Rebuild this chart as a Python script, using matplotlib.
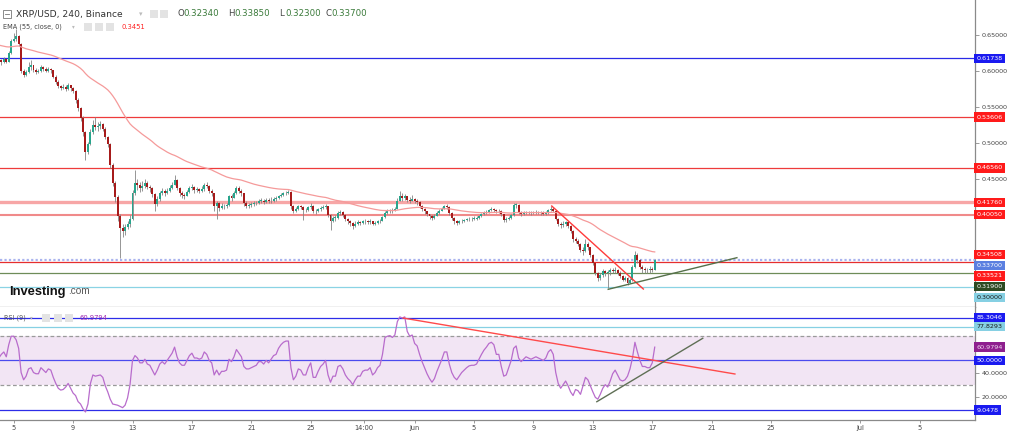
import numpy as np
import matplotlib
matplotlib.use("Agg")
import matplotlib.pyplot as plt
from matplotlib.patches import Rectangle
from matplotlib.lines import Line2D

W, H = 1024, 433

# ---- data (4h candles, prices in 1e-4 USD) ----
first_open = 6130
close_raw = [
    6150, 6120, 6160, 6130, 6250, 6420, 6450, 6480, 6380, 6000,
    5950, 5980, 6060, 6080, 6010, 5990, 6000, 6050, 6030, 6000,
    6030, 6010, 5920, 5850, 5790, 5770, 5780, 5750, 5800, 5760,
    5720, 5600, 5480, 5350, 5150, 4880, 4990, 5150, 5250, 5220,
    5240, 5260, 5200, 5080, 4990, 4700, 4450, 4250, 3980, 3820,
    3780, 3830, 3870, 3950, 4300, 4450, 4420, 4380, 4400, 4450,
    4390, 4370, 4290, 4150, 4220, 4300, 4330, 4300, 4340, 4380,
    4420, 4490, 4380, 4300, 4280, 4270, 4320, 4370, 4390, 4350,
    4360, 4340, 4360, 4420, 4400, 4340, 4300, 4120, 4170, 4100,
    4130, 4120, 4140, 4260, 4240, 4300, 4370, 4340, 4300, 4170,
    4130, 4140, 4150, 4160, 4170, 4200, 4200, 4180, 4210, 4190,
    4200, 4220, 4230, 4260, 4280, 4300, 4310, 4320, 4120, 4060,
    4090, 4120, 4110, 4070, 4070, 4110, 4130, 4050, 4050, 4080,
    4100, 4110, 4120, 4000, 3920, 3960, 3960, 4030, 4040, 4000,
    3950, 3920, 3890, 3850, 3880, 3900, 3890, 3910, 3910, 3900,
    3910, 3880, 3890, 3910, 3920, 3970, 4030, 4050, 4070, 4060,
    4090, 4200, 4260, 4240, 4260, 4210, 4200, 4220, 4190, 4180,
    4130, 4090, 4050, 4010, 3980, 3960, 3990, 4030, 4060, 4090,
    4120, 4110, 4030, 3960, 3910, 3890, 3910, 3920, 3930, 3940,
    3940, 3950, 3950, 3960, 3980, 4010, 4030, 4040, 4070, 4080,
    4070, 4050, 4060, 4010, 3930, 3940, 3960, 4000, 4140, 4140,
    4040, 4020, 4030, 4040, 4030, 4030, 4040, 4040, 4030, 4030,
    4020, 4030, 4070, 4090, 4060, 3950, 3880, 3860, 3880, 3900,
    3850, 3780, 3660, 3640, 3600, 3520, 3500, 3600, 3550, 3450,
    3330, 3200, 3120, 3170, 3220, 3190, 3210, 3240, 3220, 3240,
    3200, 3150, 3100, 3120, 3060, 3100, 3280, 3440, 3370, 3280,
    3250, 3230, 3240, 3250, 3234, 3370,
]
high_raw = [
    6180, 6170, 6190, 6170, 6280, 6450, 6530, 6580, 6500, 6390,
    6030, 6010, 6130, 6150, 6090, 6040, 6030, 6080, 6070, 6050,
    6060, 6040, 6020, 5940, 5870, 5810, 5820, 5800, 5830, 5810,
    5780, 5730, 5620, 5500, 5370, 5160, 5020, 5200, 5320, 5360,
    5290, 5300, 5280, 5220, 5100, 5000, 4720, 4470, 4280, 4020,
    3880, 3870, 3920, 4000, 4350, 4620, 4500, 4460, 4470, 4500,
    4470, 4420, 4390, 4300, 4260, 4330, 4370, 4360, 4380, 4410,
    4460, 4560, 4500, 4390, 4330, 4310, 4350, 4400, 4430, 4400,
    4390, 4380, 4400, 4440, 4460, 4410, 4360, 4310, 4200, 4180,
    4160, 4150, 4170, 4280, 4290, 4330, 4400, 4400, 4360, 4310,
    4190, 4170, 4180, 4190, 4200, 4220, 4230, 4220, 4230, 4230,
    4250, 4250, 4260, 4280, 4300, 4320, 4340, 4350, 4330, 4140,
    4110, 4140, 4140, 4120, 4100, 4130, 4160, 4140, 4080, 4100,
    4120, 4140, 4150, 4130, 4010, 3990, 4000, 4050, 4070, 4060,
    4010, 3960, 3930, 3900, 3910, 3930, 3920, 3930, 3940, 3930,
    3940, 3920, 3910, 3930, 3940, 3990, 4050, 4080, 4090, 4100,
    4110, 4240, 4330, 4300, 4290, 4270, 4250, 4280, 4240, 4220,
    4190, 4140, 4100, 4060, 4020, 4000, 4010, 4050, 4080, 4110,
    4140, 4150, 4120, 4040, 3970, 3930, 3930, 3940, 3950, 3960,
    3970, 3970, 3980, 3980, 4000, 4030, 4060, 4070, 4090, 4110,
    4100, 4090, 4080, 4070, 4020, 3970, 3990, 4020, 4170, 4170,
    4150, 4060, 4060, 4060, 4060, 4050, 4060, 4070, 4060, 4050,
    4050, 4060, 4090, 4120, 4110, 4070, 3960, 3900, 3910, 3920,
    3910, 3860, 3790, 3700, 3660, 3610, 3560, 3660, 3620, 3560,
    3460, 3340, 3210, 3200, 3250, 3240, 3240, 3260, 3270, 3280,
    3250, 3220, 3170, 3150, 3140, 3120, 3300, 3500, 3470, 3390,
    3300, 3280, 3270, 3290, 3280, 3385,
]
low_raw = [
    6100, 6090, 6110, 6110, 6120, 6240, 6400, 6420, 6350, 5970,
    5920, 5930, 5970, 6020, 5990, 5960, 5970, 5990, 6000, 5980,
    5990, 5970, 5900, 5820, 5760, 5740, 5750, 5720, 5740, 5720,
    5690, 5560, 5440, 5300, 5100, 4760, 4850, 4970, 5120, 5180,
    5170, 5200, 5160, 5050, 4940, 4650, 4400, 4180, 3920, 3400,
    3700, 3720, 3800, 3840, 3930, 4280, 4350, 4320, 4340, 4380,
    4360, 4320, 4250, 4050, 4130, 4200, 4280, 4260, 4290, 4320,
    4360, 4410, 4350, 4260, 4230, 4220, 4260, 4310, 4350, 4310,
    4320, 4300, 4320, 4340, 4370, 4300, 4260, 4050, 3940, 4060,
    4080, 4080, 4100, 4130, 4200, 4230, 4290, 4300, 4270, 4120,
    4100, 4100, 4110, 4130, 4140, 4150, 4170, 4150, 4170, 4160,
    4170, 4180, 4200, 4220, 4250, 4270, 4280, 4290, 4090, 4030,
    4040, 4070, 4080, 3930, 4040, 4060, 4090, 4030, 4020, 4040,
    4060, 4080, 4090, 3970, 3790, 3900, 3920, 3950, 4000, 3970,
    3920, 3880, 3850, 3800, 3830, 3860, 3860, 3870, 3880, 3870,
    3880, 3860, 3860, 3870, 3890, 3910, 3960, 4010, 4030, 4030,
    4050, 4080, 4190, 4200, 4210, 4180, 4170, 4190, 4160, 4140,
    4100, 4050, 4020, 3980, 3950, 3930, 3950, 3980, 4020, 4050,
    4080, 4090, 4000, 3930, 3880, 3860, 3870, 3890, 3900, 3910,
    3920, 3920, 3930, 3930, 3940, 3970, 4000, 4010, 4030, 4050,
    4040, 4030, 4030, 3990, 3900, 3900, 3930, 3950, 3990, 4100,
    4020, 3990, 4000, 4010, 4010, 4000, 4010, 4010, 4010, 4000,
    4000, 4000, 4020, 4050, 4040, 3930, 3850, 3820, 3840, 3850,
    3820, 3750, 3620, 3610, 3570, 3490, 3450, 3480, 3520, 3420,
    3300, 3160, 3080, 3100, 3140, 3150, 2990, 3170, 3190, 3200,
    3170, 3120, 3080, 3090, 3030, 3050, 3090, 3270, 3330, 3250,
    3200, 3200, 3190, 3200, 3210, 3230,
]
rsi9 = [
    52, 55, 57, 53, 63, 70, 70, 67, 60, 40,
    34, 37, 43, 44, 40, 39, 39, 44, 42, 40,
    43, 42, 36, 31, 27, 25.5, 26, 28, 31, 27,
    23, 21, 16, 14, 10, 7.4, 14, 31, 38, 37,
    37.5, 38, 36, 29, 24, 18, 14, 13.5, 13, 12,
    11, 13, 19, 30, 50, 54, 52, 48, 48, 51,
    47, 46, 42, 38, 42, 47, 49, 47, 50, 53,
    56, 61, 53, 48, 46, 46, 50, 54, 56, 52,
    52, 51, 52, 57, 55, 50, 48, 38, 42, 38,
    41, 41, 42, 51, 49, 53, 59, 56, 53, 45,
    43, 43, 44, 45, 46, 49, 49, 47, 50, 48,
    51, 54, 55, 60, 63, 65, 66, 66, 44, 34,
    37, 43, 42, 38, 38, 44, 48, 36, 36, 41,
    45, 47, 50, 38, 32, 37, 37, 45, 46, 43,
    38, 35, 33, 30, 34, 37, 37, 41, 42, 42,
    44, 38, 40, 44, 46, 55, 69, 70, 70.5, 69,
    71, 82, 86, 85, 86, 74, 70, 71, 64, 62,
    55, 49, 44, 39, 35, 32, 35, 41, 46, 51,
    57, 57, 47, 40, 36, 34, 37, 40, 42, 44,
    45.5, 46, 46, 47, 51, 55, 58.5, 61, 64, 65,
    63, 55, 55, 45, 37, 38, 44, 50, 60, 62,
    52, 49, 51, 53, 52, 51, 52, 53, 52, 51,
    50, 52, 57, 59, 55, 40, 31, 27, 30, 33,
    29, 24, 21, 26, 25, 22, 29, 36, 34, 29,
    24, 19.5, 18, 22, 27, 30, 28, 33, 39, 42,
    38, 34, 33, 34, 37, 43, 52, 65, 57, 50,
    45, 45, 44, 44, 48, 60.9794,
]

ema_start = 0.636          # EMA value at the first visible bar
ema_len = 55

# horizontal price levels drawn on the chart
levels = [0.61738, 0.53606, 0.46560, 0.41760, 0.40050, 0.33521, 0.31900, 0.30000]
last_close_label = 0.33700
ema_last_label = 0.34508

# RSI levels
rsi_levels = [85.3046, 77.8293, 50.0, 9.0478]
rsi_last = 60.9794

# trendlines: (bar index, value)
price_trend_red = ([223.4, 260.4], [0.4125, 0.2972])
price_trend_green = ([246.2, 298.2], [0.2968, 0.3407])
rsi_trend_red = ([163.4, 297.4], [85.0, 38.8])
rsi_trend_green = ([241.6, 284.4], [15.9, 68.3])

# x axis labels (bar index of each day boundary, 4h bars from May 4 00:00)
tick_idx = [6, 30, 54, 78, 102, 126, 147.5, 168, 192, 216, 240, 264, 288, 312, 348, 372]
tick_lbl = ["5", "9", "13", "17", "21", "25", "14:00", "Jun", "5", "9", "13", "17",
            "21", "25", "Jul", "5"]

# ---- derived series ----
c = np.array(close_raw) / 1e4
h = np.array(high_raw) / 1e4
l = np.array(low_raw) / 1e4
o = np.r_[first_open / 1e4, c[:-1]]
idx = np.arange(len(c))
rsi = np.array(rsi9, dtype=float)

alpha = 2.0 / (ema_len + 1)
ema = np.empty_like(c)
ema[0] = ema_start
for k in range(1, len(c)):
    ema[k] = ema[k - 1] + alpha * (c[k] - ema[k - 1])

# ---- figure ----
fig = plt.figure(figsize=(W / 100, H / 100), dpi=100)
fig.patch.set_facecolor("white")

def fx(x):
    return x / W

def fy(y):
    return 1 - y / H

ax = fig.add_axes([0, fy(307), fx(975), 307 / H])
ax2 = fig.add_axes([0, fy(420), fx(975), 113 / H], sharex=ax)

P_MIN, P_MAX = 0.27222, 0.69861
R_MIN, R_MAX = 0.79, 94.14
ax.set_xlim(0.465, 394.4)
ax.set_ylim(P_MIN, P_MAX)
ax2.set_ylim(R_MIN, R_MAX)

axis_grey = "#8a8a8a"
for a in (ax, ax2):
    a.set_facecolor("white")
    a.spines["left"].set_visible(False)
    a.spines["top"].set_visible(False)
    for s in ("right", "bottom"):
        a.spines[s].set_color(axis_grey)
        a.spines[s].set_linewidth(0.9)
    a.yaxis.tick_right()
    a.tick_params(axis="y", direction="out", length=3, width=0.6, color=axis_grey,
                  labelsize=4.6, labelcolor="#444444", pad=2)

# candles
up = c >= o
ax.vlines(idx, l, h, color="#858585", lw=0.6, zorder=3)
ax.bar(idx[up], np.maximum((c - o)[up], 0.0006), bottom=o[up], width=0.8,
       color="#27a58c", lw=0, zorder=4)
ax.bar(idx[~up], np.maximum((o - c)[~up], 0.0006), bottom=c[~up], width=0.8,
       color="#a61b1b", lw=0, zorder=4)
ax.plot(idx, ema, color="#f59a9a", lw=0.9, zorder=5)

level_colors = ["#2a2ae6", "#ee3b3b", "#ee3b3b", "#f7a6a6", "#f08a8a", "#e62e2e",
                "#6e8c58", "#8ad3e4"]
level_widths = [0.9, 0.9, 0.9, 2.4, 1.5, 0.9, 0.9, 0.9]
for p, col, lw in zip(levels, level_colors, level_widths):
    ax.axhline(p, color=col, lw=lw, zorder=2)
ax.axhline(last_close_label, color="#a9b3ee", lw=1.6, ls=(0, (1, 1)), zorder=2)

ax.plot(*price_trend_red, color="#ff3b3b", lw=1.0, zorder=6)
ax.plot(*price_trend_green, color="#55704a", lw=1.0, zorder=6)

ax.set_yticks([0.45, 0.50, 0.55, 0.60, 0.65])
ax.yaxis.set_major_formatter(matplotlib.ticker.FormatStrFormatter("%.5f"))
ax.tick_params(axis="x", bottom=False, labelbottom=False)

# price tags on the right, stacked so they do not overlap
tags = [
    (0.61738, "#1a1af0", "white"),
    (0.53606, "#ff1a1a", "white"),
    (0.46560, "#ff1a1a", "white"),
    (0.41760, "#ff1a1a", "white"),
    (0.40050, "#ff1a1a", "white"),
    (ema_last_label, "#ff1a1a", "white"),
    (last_close_label, "#5b7fe0", "white"),
    (0.33521, "#ff1a1a", "white"),
    (0.31900, "#2d4a22", "white"),
    (0.30000, "#86d0e3", "#1a1a1a"),
]
prev = -100.0
for p, fc, tc in tags:
    ypx = (P_MAX - p) / (P_MAX - P_MIN) * 307
    ypx = max(ypx, prev + 10.7)
    prev = ypx
    ax.text(1.0015, 1 - ypx / 307, f"{p:.5f}", transform=ax.transAxes, fontsize=4.6,
            color=tc, ha="left", va="center", clip_on=False, zorder=10,
            bbox=dict(boxstyle="square,pad=0.35", fc=fc, ec="none"))

# RSI panel
ax2.axhspan(30, 70, color="#f2e5f4", lw=0, zorder=0)
for v in (30, 70):
    ax2.axhline(v, color="#9a9a9a", lw=0.9, ls=(0, (3, 2)), zorder=1)
rsi_level_colors = ["#2d2de8", "#86d0e3", "#4b4bee", "#2d2de8"]
for v, col in zip(rsi_levels, rsi_level_colors):
    ax2.axhline(v, color=col, lw=0.9, zorder=2)
ax2.plot(idx, rsi, color="#b86ccc", lw=0.9, zorder=4)
ax2.plot(*rsi_trend_red, color="#ff4a4a", lw=1.0, zorder=5)
ax2.plot(*rsi_trend_green, color="#5f6f55", lw=1.0, zorder=5)

ax2.set_yticks([20, 40])
ax2.yaxis.set_major_formatter(matplotlib.ticker.FormatStrFormatter("%.4f"))
rsi_tags = [
    (85.3046, "#1a1af0", "white"),
    (77.8293, "#86d0e3", "#1a1a1a"),
    (rsi_last, "#8e1f8e", "#f0d8f0"),
    (50.0, "#1a1af0", "white"),
    (9.0478, "#1a1af0", "white"),
]
for v, fc, tc in rsi_tags:
    ax2.text(1.0015, v, f"{v:.4f}", transform=ax2.get_yaxis_transform(), fontsize=4.6,
             color=tc, ha="left", va="center", clip_on=False, zorder=10,
             bbox=dict(boxstyle="square,pad=0.35", fc=fc, ec="none"))

ax2.set_xticks(tick_idx)
ax2.set_xticklabels(tick_lbl)
ax2.tick_params(axis="x", direction="out", length=2.5, width=0.6, color=axis_grey,
                labelsize=4.8, labelcolor="#444444", pad=1)

# ---- header texts ----
fig.add_artist(Rectangle((fx(3), fy(18)), 8 / W, 8 / H, transform=fig.transFigure,
                         fill=False, ec="#777777", lw=0.6))
fig.add_artist(Line2D([fx(5), fx(9)], [fy(14), fy(14)], transform=fig.transFigure,
                      color="#777777", lw=0.6))
fig.text(fx(16), fy(14), "XRP/USD, 240, Binance", fontsize=6.6, color="#333333",
         va="center", ha="left")
fig.text(fx(139), fy(14), "▾", fontsize=5, color="#bbbbbb", va="center", ha="left")
for x0 in (150, 160):
    fig.add_artist(Rectangle((fx(x0), fy(18)), 8 / W, 8 / H, transform=fig.transFigure,
                             fc="#e3e3e3", ec="none"))

ohlc_header = [("O", "0.32340", 177), ("H", "0.33850", 228), ("L", "0.32300", 279),
               ("C", "0.33700", 325)]
for letter, val, x0 in ohlc_header:
    fig.text(fx(x0), fy(14), letter, fontsize=6.2, color="#444444", va="center", ha="left")
    fig.text(fx(x0 + 6.8), fy(14), val, fontsize=6.2, color="#3a7a3a", va="center", ha="left")

fig.text(fx(3), fy(27), "EMA (55, close, 0)", fontsize=4.7, color="#444444",
         va="center", ha="left")
fig.text(fx(72), fy(27), "▾", fontsize=4, color="#bbbbbb", va="center", ha="left")
for x0 in (84, 95, 106):
    fig.add_artist(Rectangle((fx(x0), fy(31)), 8 / W, 8 / H, transform=fig.transFigure,
                             fc="#e3e3e3", ec="none"))
fig.text(fx(122), fy(27), "0.3451", fontsize=4.9, color="#ff2020", va="center", ha="left")

fig.text(fx(4), fy(318), "RSI (9)", fontsize=4.7, color="#555555", va="center", ha="left")
fig.text(fx(30), fy(318), "▾", fontsize=4, color="#bbbbbb", va="center", ha="left")
for x0 in (42, 53.5, 65):
    fig.add_artist(Rectangle((fx(x0), fy(322)), 8 / W, 8 / H, transform=fig.transFigure,
                             fc="#e3e3e3", ec="none"))
fig.text(fx(79), fy(318), "60.9794", fontsize=4.9, color="#9c27b0", va="center", ha="left")

fig.text(fx(9), fy(294.5), "Investing", fontsize=9.3, fontweight="bold",
         family="Liberation Sans", color="#111111", va="baseline", ha="left")
fig.text(fx(68.5), fy(294.5), ".com", fontsize=7.2, family="Liberation Sans",
         color="#555555", va="baseline", ha="left")

fig.savefig("out.png", dpi=100, facecolor="white")
